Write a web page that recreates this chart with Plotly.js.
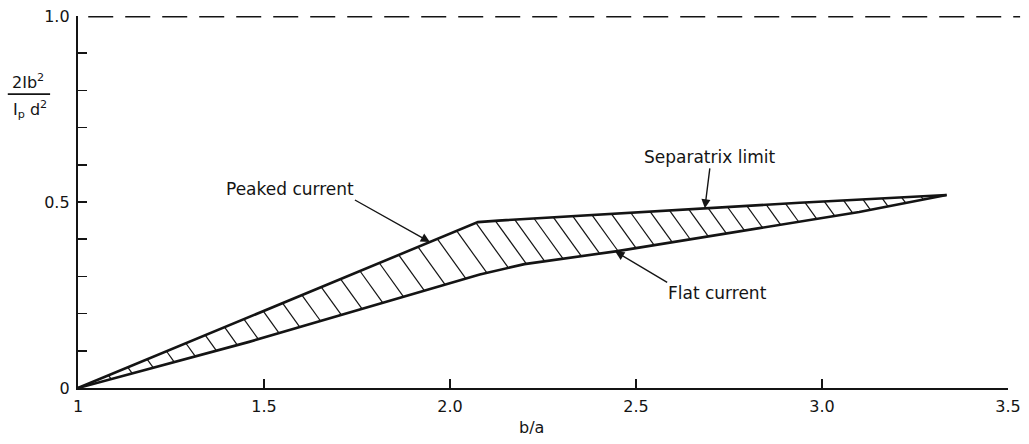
<!DOCTYPE html>
<html>
<head>
<meta charset="utf-8">
<script src="https://cdn.plot.ly/plotly-3.0.1.min.js"></script>
<style>
  html, body { margin: 0; padding: 0; background: #fff; }
  #chart { width: 1029px; height: 444px; }
</style>
</head>
<body>
<div id="chart"></div>
<script>
// Upper boundary: peaked-current profile up to the knee, then the separatrix limit
const upperX = [1.0, 2.075, 2.13, 2.5, 2.94, 3.335];
const upperY = [0.0, 0.446, 0.450, 0.472, 0.498, 0.519];

// Lower boundary: flat-current profile
const lowerX = [1.0, 1.46, 2.08, 2.2, 2.45, 2.8, 3.1, 3.335];
const lowerY = [0.0, 0.124, 0.305, 0.333, 0.368, 0.425, 0.473, 0.519];

// Reference level drawn dashed across the top
const limitLevel = 1.0;

// Axis ticks
const xTickVals = [1, 1.5, 2, 2.5, 3, 3.5];
const xTickText = ['1', '1.5', '2.0', '2.5', '3.0', '3.5'];
const yTickVals = [0, 0.5, 1.0];
const yTickText = ['0', '0.5', '1.0'];

// Curve labels: text, where the arrow points (x on the curve), which curve
const labelText = ['Peaked current', 'Separatrix limit', 'Flat current'];
const labelTipX = [1.946, 2.685, 2.444];
const labelCurve = ['upper', 'upper', 'lower'];

function interp(xs, ys, x) {
  if (x <= xs[0]) return ys[0];
  for (let i = 1; i < xs.length; i++) {
    if (x <= xs[i]) {
      const t = (x - xs[i - 1]) / (xs[i] - xs[i - 1]);
      return ys[i - 1] + t * (ys[i] - ys[i - 1]);
    }
  }
  return ys[ys.length - 1];
}
const U = x => interp(upperX, upperY, x);
const L = x => interp(lowerX, lowerY, x);

// Hatching between the two boundaries: short slanted strokes running
// down-right from the upper curve to the lower one.
const hatchStep = 0.052;
const hatchSlant = 0.72;   // horizontal run per unit of vertical drop
const hx = [], hy = [];
const xEnd = upperX[upperX.length - 1];
for (let x = 1.03; x < xEnd - 0.03; x += hatchStep) {
  const yu = U(x);
  let x2 = x;
  for (let k = 0; k < 4; k++) x2 = x + hatchSlant * (yu - L(x2));
  if (x2 > xEnd) continue;
  const yl = L(x2);
  if (yu - yl < 0.004) continue;
  hx.push(x, x2, null);
  hy.push(yu, yl, null);
}

const ink = '#141414';
const fam = 'DejaVu Sans, Arial, sans-serif';
const font = { family: fam, size: 16, color: ink };

const traces = [
  { x: hx, y: hy, mode: 'lines', line: { color: ink, width: 1.2 },
    hoverinfo: 'skip', showlegend: false, cliponaxis: false },
  { x: upperX, y: upperY, mode: 'lines', line: { color: ink, width: 2.6 },
    showlegend: false, cliponaxis: false },
  { x: lowerX, y: lowerY, mode: 'lines', line: { color: ink, width: 2.6 },
    showlegend: false, cliponaxis: false }
];

const curveFn = { upper: U, lower: L };

// Arrow tail offsets (pixels from the tip) and which side of the text the tail sits on
const arrowTail = [
  { ax: -75, ay: -42, xanchor: 'right', yanchor: 'bottom' },
  { ax: 5, ay: -40, xanchor: 'center', yanchor: 'bottom' },
  { ax: 52, ay: 31, xanchor: 'left', yanchor: 'top' }
];

const annotations = labelText.map((t, i) => {
  const tx = labelTipX[i];
  return {
    x: tx, y: curveFn[labelCurve[i]](tx), xref: 'x', yref: 'y',
    text: t, showarrow: true, arrowhead: 2, arrowsize: 1.3,
    arrowwidth: 1.4, arrowcolor: ink,
    ax: arrowTail[i].ax, ay: arrowTail[i].ay,
    xanchor: arrowTail[i].xanchor, yanchor: arrowTail[i].yanchor,
    borderpad: 0,
    font: { family: fam, size: 17, color: ink }
  };
});

// Y-axis quantity written as a stacked fraction
annotations.push({
  x: -0.054, y: 0.823, xref: 'paper', yref: 'paper',
  text: '2Ib<sup>2</sup>', showarrow: false, xanchor: 'center', yanchor: 'middle',
  font: { family: fam, size: 16, color: ink }
});
annotations.push({
  x: -0.052, y: 0.748, xref: 'paper', yref: 'paper',
  text: 'I<sub>p</sub> d<sup>2</sup>', showarrow: false, xanchor: 'center', yanchor: 'middle',
  font: { family: fam, size: 16, color: ink }
});
// X-axis quantity
annotations.push({
  x: 0.488, y: -0.105, xref: 'paper', yref: 'paper',
  text: 'b/a', showarrow: false, xanchor: 'center', yanchor: 'middle',
  font: { family: fam, size: 16, color: ink }
});

const shapes = [
  { type: 'line', xref: 'paper', yref: 'y', x0: 0.011, x1: 1.013,
    y0: limitLevel, y1: limitLevel,
    line: { color: ink, width: 2.8, dash: '25px,12px' } },
  { type: 'line', xref: 'paper', yref: 'paper', x0: -0.0755, x1: -0.030,
    y0: 0.790, y1: 0.790, line: { color: ink, width: 1.6 } }
];

const layout = {
  width: 1029, height: 444,
  margin: { l: 78, r: 21, t: 16, b: 56 },
  paper_bgcolor: '#fff', plot_bgcolor: '#fff',
  font: font,
  showlegend: false,
  xaxis: {
    range: [1, 3.5], showgrid: false, zeroline: false,
    showline: true, linecolor: ink, linewidth: 2.2,
    tickvals: xTickVals, ticktext: xTickText,
    ticks: 'inside', ticklen: 9, tickwidth: 1.6, tickcolor: ink,
    tickfont: font, ticklabelstandoff: 3
  },
  yaxis: {
    range: [0, 1], showgrid: false, zeroline: false,
    showline: true, linecolor: ink, linewidth: 2.2,
    tickvals: yTickVals, ticktext: yTickText,
    ticks: 'inside', ticklen: 9, tickwidth: 1.6, tickcolor: ink,
    minor: { dtick: 0.1, tick0: 0, ticks: 'inside', ticklen: 9, tickwidth: 1.6, tickcolor: ink, showgrid: false },
    tickfont: font, ticklabelstandoff: 3
  },
  annotations: annotations,
  shapes: shapes
};

Plotly.newPlot('chart', traces, layout, { displayModeBar: false, staticPlot: true });
</script>
</body>
</html>
